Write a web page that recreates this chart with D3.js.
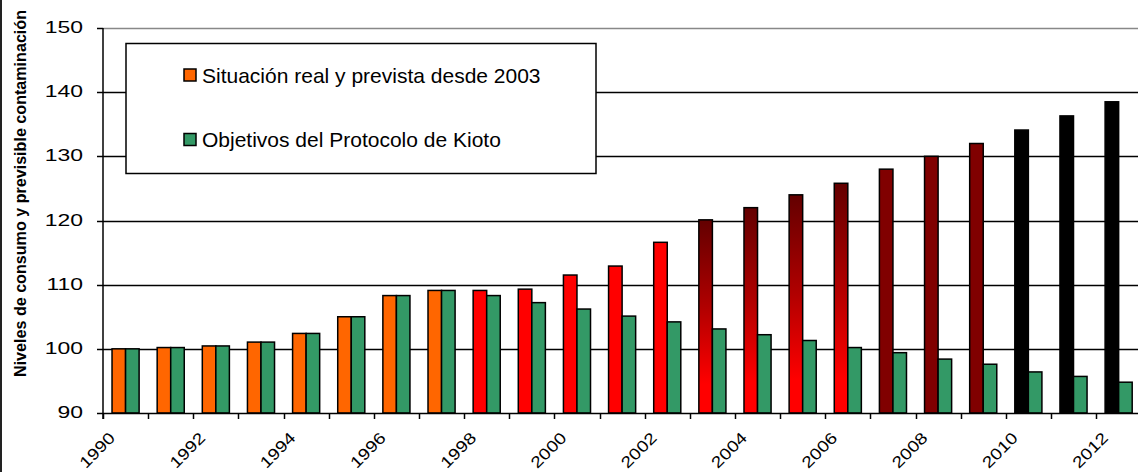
<!DOCTYPE html>
<html>
<head>
<meta charset="utf-8">
<script src="https://cdn.jsdelivr.net/npm/d3@7/dist/d3.min.js"></script>
<style>
  body { margin: 0; background: #fff; }
  svg text { font-family: "Liberation Sans", Arial, sans-serif; fill: #000; }
</style>
</head>
<body>
<div id="chart"></div>
<script>
const years = d3.range(1990, 2013);
// Situación real y prevista desde 2003
const realValues = [100, 100.2, 100.45, 101.05, 102.4, 105.0, 108.3, 109.1,
    109.1, 109.3, 111.5, 112.9, 116.6, 120.1, 122.0, 124.0, 125.8, 128.0,
    130.0, 132.0, 134.1, 136.3, 138.5];
// Objetivos del Protocolo de Kioto
const kiotoValues = [100, 100.2, 100.45, 101.05, 102.4, 105.0, 108.3, 109.1,
    108.3, 107.2, 106.2, 105.1, 104.2, 103.1, 102.2, 101.3, 100.2, 99.4,
    98.4, 97.6, 96.4, 95.7, 94.8];
// first year of each phase of the real series
const phaseStart = [1990, 1998, 2003, 2007, 2010];
const phaseName = ["historico", "real", "transicion", "prevista", "proyectada"];
const yTicks = [90, 100, 110, 120, 130, 140, 150];
const legendLabels = ["Situación real y prevista desde 2003", "Objetivos del Protocolo de Kioto"];
const yTitle = "Niveles de consumo y previsible contaminación";

const width = 1138, height = 472;
const plot = {left: 103, top: 28, bottom: 413, step: 45.14};

const phaseColor = {
    historico: "#ff6600",
    real: "#ff0000",
    transicion: "url(#gradReal)",
    prevista: "#800000",
    proyectada: "#000000"
};
const kiotoColor = "#339966";

const svg = d3.select("#chart").append("svg")
    .attr("width", width)
    .attr("height", height);

const grad = svg.append("defs").append("linearGradient")
    .attr("id", "gradReal")
    .attr("x1", 0).attr("y1", 0).attr("x2", 0).attr("y2", 1);
grad.append("stop").attr("offset", 0).attr("stop-color", "#630000");
grad.append("stop").attr("offset", 0.45).attr("stop-color", "#b00000");
grad.append("stop").attr("offset", 0.85).attr("stop-color", "#ff0000");
grad.append("stop").attr("offset", 1).attr("stop-color", "#ff0000");

const x = d3.scaleBand()
    .domain(years)
    .range([plot.left, plot.left + years.length * plot.step]);

const xs = d3.scaleBand()
    .domain(["real", "kioto"])
    .range([x.bandwidth() * 0.2, x.bandwidth() * 0.8]);

const y = d3.scaleLinear()
    .domain([90, 150])
    .range([plot.bottom, plot.top]);

function phaseOf(year) {
    let p = 0;
    phaseStart.forEach((s, i) => { if (year >= s) p = i; });
    return phaseName[p];
}

// left frame line
svg.append("line")
    .attr("x1", 1).attr("x2", 1).attr("y1", 0).attr("y2", height)
    .attr("stroke", "#222").attr("stroke-width", 2);

// gridlines
svg.append("g").attr("class", "grid")
    .selectAll("line")
    .data(yTicks.filter(d => d > 90))
    .enter().append("line")
    .attr("x1", plot.left).attr("x2", width)
    .attr("y1", d => Math.round(y(d)) + 0.5)
    .attr("y2", d => Math.round(y(d)) + 0.5)
    .attr("stroke", d => d === 150 ? "#888" : "#000")
    .attr("stroke-width", 1.5);

// bars
const groups = svg.append("g").attr("class", "bars")
    .selectAll("g")
    .data(years)
    .enter().append("g")
    .attr("transform", d => "translate(" + x(d) + ",0)");

groups.append("rect")
    .attr("x", xs("real"))
    .attr("width", xs.bandwidth())
    .attr("y", (d, i) => y(realValues[i]))
    .attr("height", (d, i) => y(90) - y(realValues[i]))
    .attr("fill", d => phaseColor[phaseOf(d)])
    .attr("stroke", "#000")
    .attr("stroke-width", 1.5);

groups.append("rect")
    .attr("x", xs("kioto"))
    .attr("width", xs.bandwidth())
    .attr("y", (d, i) => y(kiotoValues[i]))
    .attr("height", (d, i) => y(90) - y(kiotoValues[i]))
    .attr("fill", kiotoColor)
    .attr("stroke", "#000")
    .attr("stroke-width", 1.5);

// y axis
const yAxis = svg.append("g").attr("class", "y-axis");
yAxis.append("line")
    .attr("x1", plot.left).attr("x2", plot.left)
    .attr("y1", plot.top).attr("y2", plot.bottom + 6)
    .attr("stroke", "#000").attr("stroke-width", 1.5);
yAxis.selectAll("line.tick")
    .data(yTicks)
    .enter().append("line")
    .attr("class", "tick")
    .attr("x1", plot.left - 6).attr("x2", plot.left)
    .attr("y1", d => Math.round(y(d)) + 0.5)
    .attr("y2", d => Math.round(y(d)) + 0.5)
    .attr("stroke", "#000").attr("stroke-width", 1.5);
yAxis.selectAll("text")
    .data(yTicks)
    .enter().append("text")
    .attr("transform", d => "translate(83," + (y(d) - 1) + ") scale(1.35,1)")
    .attr("dy", "0.36em")
    .attr("text-anchor", "end")
    .attr("font-size", 17)
    .text(d => d);

// x axis
const xAxis = svg.append("g").attr("class", "x-axis");
xAxis.append("line")
    .attr("x1", plot.left).attr("x2", width)
    .attr("y1", plot.bottom + 0.5).attr("y2", plot.bottom + 0.5)
    .attr("stroke", "#000").attr("stroke-width", 1.5);
xAxis.selectAll("line.tick")
    .data(years)
    .enter().append("line")
    .attr("class", "tick")
    .attr("x1", d => Math.round(x(d)) + 0.5)
    .attr("x2", d => Math.round(x(d)) + 0.5)
    .attr("y1", plot.bottom).attr("y2", plot.bottom + 6)
    .attr("stroke", "#000").attr("stroke-width", 1.5);
xAxis.selectAll("text")
    .data(years.filter(d => d % 2 === 0))
    .enter().append("text")
    .attr("transform", d => "translate(" + (x(d) + x.bandwidth() / 2 - 9.5) + "," + 439 + ") rotate(-45) scale(1.2,1)")
    .attr("text-anchor", "end")
    .attr("font-size", 16)
    .text(d => d);

// y title
svg.append("text")
    .attr("transform", "translate(26,377) rotate(-90)")
    .attr("text-anchor", "start")
    .attr("font-size", 17)
    .attr("font-weight", "bold")
    .attr("textLength", 367)
    .attr("lengthAdjust", "spacingAndGlyphs")
    .text(yTitle);

// legend
const legend = svg.append("g").attr("class", "legend");
legend.append("rect")
    .attr("x", 126).attr("y", 43.5)
    .attr("width", 470).attr("height", 130)
    .attr("fill", "#fff")
    .attr("stroke", "#000")
    .attr("stroke-width", 1.5);
const items = legend.selectAll("g.item")
    .data(legendLabels)
    .enter().append("g")
    .attr("class", "item")
    .attr("transform", (d, i) => "translate(184," + (69 + i * 64.5) + ")");
items.append("rect")
    .attr("width", 12).attr("height", 12)
    .attr("fill", (d, i) => i === 0 ? phaseColor.historico : kiotoColor)
    .attr("stroke", "#000").attr("stroke-width", 1.5);
items.append("text")
    .attr("x", 18).attr("y", 13.5)
    .attr("font-size", 21)
    .text(d => d);
</script>
</body>
</html>
